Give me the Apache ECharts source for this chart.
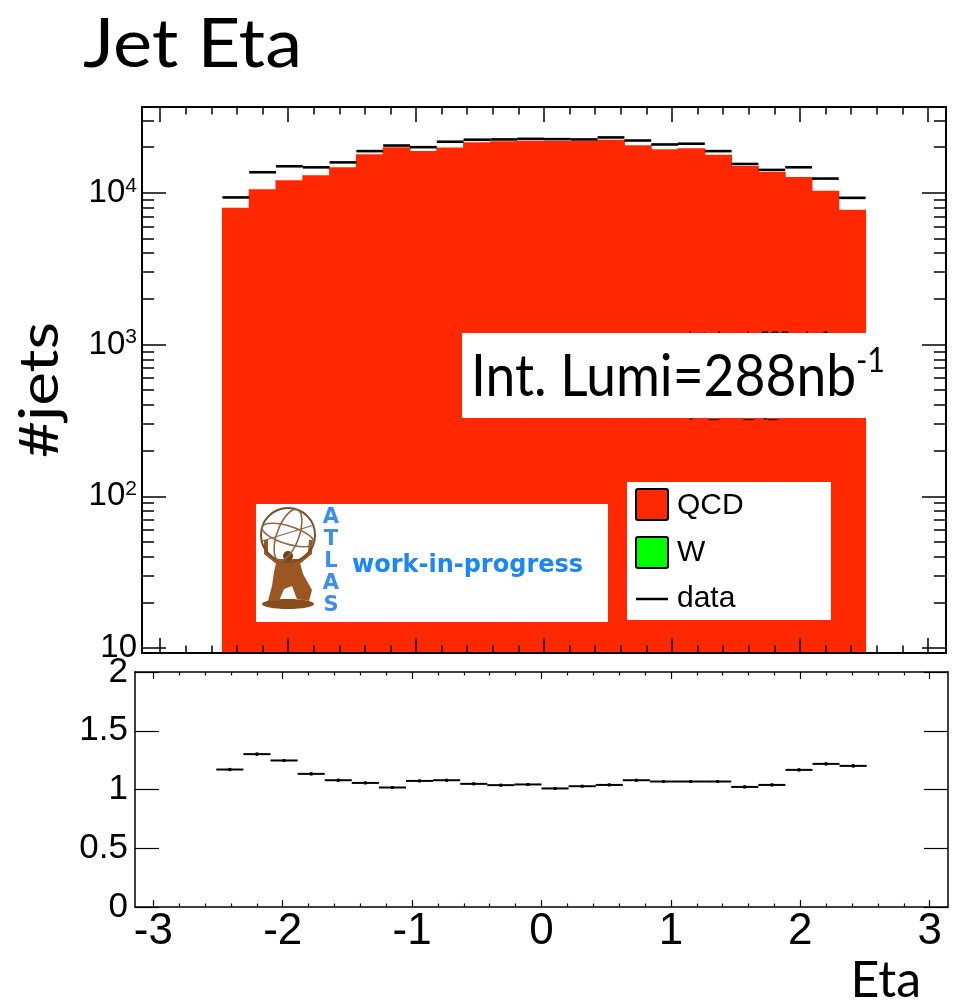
<!DOCTYPE html>
<html>
<head>
<meta charset="utf-8">
<script src="https://cdn.jsdelivr.net/npm/echarts@6/dist/echarts.min.js"></script>
<style>
  html, body { margin: 0; padding: 0; background: #fff; }
  #chart { width: 955px; height: 1002px; }
</style>
</head>
<body>
<div id="chart"></div>
<script>
// Histogram binning: 30 bins over [-pi, pi]; bins 3..26 are filled
const nBins = 30;
const etaMin = -Math.PI;
const etaMax = Math.PI;
const firstFilledBin = 3;

// QCD expectation per bin (jets)
const qcdCounts = [7980, 10580, 12110, 13060, 14740, 17990, 20000, 18840, 19900, 21580, 21920, 22030,
                   21930, 21930, 22400, 20600, 19410, 19710, 17830, 15030, 13730, 12730, 10310, 7740];
// Observed data per bin (jets)
const dataCounts = [9330, 13670, 14970, 14730, 15880, 18840, 20510, 20000, 21720, 22400, 22490, 22700,
                    22590, 22490, 23190, 22130, 20840, 21080, 18840, 15500, 14160, 14740, 12420, 9270];
// Data / MC ratio and its uncertainty
const ratioValues = [1.170, 1.301, 1.247, 1.133, 1.079, 1.056, 1.017, 1.073, 1.079, 1.048, 1.037, 1.043,
                     1.009, 1.028, 1.039, 1.079, 1.068, 1.068, 1.068, 1.022, 1.039, 1.167, 1.218, 1.201];
const ratioErrors = [0.014, 0.013, 0.012, 0.012, 0.011, 0.010, 0.010, 0.010, 0.010, 0.010, 0.010, 0.010,
                     0.010, 0.010, 0.010, 0.010, 0.010, 0.010, 0.010, 0.011, 0.011, 0.012, 0.013, 0.014];

// Axis tick positions
const xMajorTicks = [-3, -2, -1, 0, 1, 2, 3];
const xMinorTicks = [];
for (let k = -15; k <= 15; k++) if (k % 5 !== 0) xMinorTicks.push(k / 5);
const yLogMajorTicks = [10, 100, 1000, 10000];
const yLogMinorTicks = [];
for (let e = 1; e <= 3; e++) for (let m = 2; m <= 9; m++) yLogMinorTicks.push(m * Math.pow(10, e));
yLogMinorTicks.push(20000, 30000);
const ratioTicks = [0, 0.5, 1, 1.5, 2];

const yLogMin = 9.27;
const yLogMax = 36800;

const binW = (etaMax - etaMin) / nBins;
const binLow = i => etaMin + (firstFilledBin + i) * binW;
const qcdItems = qcdCounts.map((v, i) => [binLow(i), binLow(i) + binW, v]);
const dataItems = dataCounts.map((v, i) => [binLow(i), binLow(i) + binW, v]);
const ratioItems = ratioValues.map((v, i) => [binLow(i), binLow(i) + binW, v, ratioErrors[i]]);

const RED = '#ff2800';
const NUM_FONT = 'Liberation Sans';
const TITLE_FONT = 'Lato';

function tickAxis(kind, grid, pos, values, len, width, extra) {
  const base = {
    gridIndex: grid, position: pos,
    axisLine: { show: false, onZero: false },
    axisLabel: { show: false },
    splitLine: { show: false },
    axisTick: { show: true, inside: true, length: len, customValues: values,
                lineStyle: { color: '#000', width: width } },
    z: 10
  };
  if (kind === 'x') Object.assign(base, { type: 'value', min: etaMin, max: etaMax });
  return Object.assign(base, extra || {});
}
const frame = w => ({ show: true, onZero: false, lineStyle: { color: '#000', width: w } });

const logY = { type: 'log', logBase: 10, min: yLogMin, max: yLogMax };
const ratioY = { type: 'value', min: 0, max: 2, interval: 0.5 };

// ATLAS logo: globe wireframe, kneeling figure, vertical lettering
const BRONZE = '#9b5622';
const WIRE = '#8b6a4a';
const logoParts = [
  { type: 'ellipse', shape: { cx: 288, cy: 604, rx: 26, ry: 5 }, style: { fill: '#8a4a1c' } },
  { type: 'polygon', shape: { points: [[277, 559], [299, 559], [303, 574], [312, 590], [309, 601],
                                         [297, 599], [292, 586], [284, 589], [279, 601], [268, 601],
                                         [272, 586], [274, 572]] },
    style: { fill: BRONZE } },
  { type: 'circle', shape: { cx: 288, cy: 556, r: 5 }, style: { fill: '#7b3f16' } },
  { type: 'polyline', shape: { points: [[277, 562], [266, 553], [266, 540]] }, style: { stroke: BRONZE, lineWidth: 4, fill: 'none' } },
  { type: 'polyline', shape: { points: [[299, 562], [310, 553], [311, 540]] }, style: { stroke: BRONZE, lineWidth: 4, fill: 'none' } },
  { type: 'circle', shape: { cx: 288, cy: 535, r: 27 }, style: { fill: 'none', stroke: '#7a4a2a', lineWidth: 2 } },
  { type: 'ellipse', shape: { cx: 288, cy: 535, rx: 11, ry: 27 }, rotation: -0.35, originX: 288, originY: 535,
    style: { fill: 'none', stroke: WIRE, lineWidth: 1.6 } },
  { type: 'ellipse', shape: { cx: 288, cy: 535, rx: 27, ry: 9 }, rotation: -0.3, originX: 288, originY: 535,
    style: { fill: 'none', stroke: WIRE, lineWidth: 1.6 } },
  { type: 'line', shape: { x1: 262, y1: 541, x2: 314, y2: 525 }, style: { stroke: WIRE, lineWidth: 1.3 } }
].map(p => Object.assign(p, { z: 53 }));
const logoLetters = ['A', 'T', 'L', 'A', 'S'].map((ch, i) => ({
  type: 'text', x: 331, y: 518 + i * 22, z: 53,
  style: { text: ch, font: 'bold 21px "DejaVu Sans"', fill: '#3d8ef2', align: 'center', verticalAlign: 'middle' }
}));

const chart = echarts.init(document.getElementById('chart'), null, { renderer: 'canvas' });

chart.setOption({
  animation: false,
  backgroundColor: '#fff',
  grid: [
    { left: 142, top: 107, width: 804, height: 546, show: false },
    { left: 135, top: 672, width: 813, height: 235, show: false }
  ],
  xAxis: [
    // upper panel
    tickAxis('x', 0, 'bottom', xMajorTicks, 15, 1.5, { axisLine: frame(2) }),
    tickAxis('x', 0, 'bottom', xMinorTicks, 7.5, 1.5),
    tickAxis('x', 0, 'top', xMajorTicks, 15, 1.5, { axisLine: frame(2) }),
    tickAxis('x', 0, 'top', xMinorTicks, 7.5, 1.5),
    // ratio panel
    tickAxis('x', 1, 'bottom', xMajorTicks, 7, 1.2, {
      axisLine: frame(1.5),
      axisLabel: { show: true, customValues: xMajorTicks, fontFamily: NUM_FONT, fontSize: 44,
                   color: '#000', margin: 3, formatter: v => String(v) }
    }),
    tickAxis('x', 1, 'bottom', xMinorTicks, 3.5, 1.2),
    tickAxis('x', 1, 'top', xMajorTicks, 7, 1.2, { axisLine: frame(1.5) }),
    tickAxis('x', 1, 'top', xMinorTicks, 3.5, 1.2)
  ],
  yAxis: [
    // upper panel (log)
    tickAxis('y', 0, 'left', yLogMajorTicks, 24, 1.5, Object.assign({}, logY, {
      axisLine: frame(2),
      axisLabel: {
        show: true, customValues: yLogMajorTicks, margin: 5, color: '#000',
        fontFamily: NUM_FONT, fontSize: 33,
        formatter: v => {
          const e = Math.round(Math.log10(v));
          return e === 1 ? '{b|10}' : '{b|10}{s|' + e + '}';
        },
        rich: {
          b: { fontFamily: NUM_FONT, fontSize: 33, lineHeight: 35, color: '#000' },
          s: { fontFamily: NUM_FONT, fontSize: 21, lineHeight: 21, color: '#000', verticalAlign: 'top' }
        }
      }
    })),
    tickAxis('y', 0, 'left', yLogMinorTicks, 12, 1.5, Object.assign({}, logY)),
    tickAxis('y', 0, 'right', yLogMajorTicks, 24, 1.5, Object.assign({}, logY, { axisLine: frame(2) })),
    tickAxis('y', 0, 'right', yLogMinorTicks, 12, 1.5, Object.assign({}, logY)),
    // ratio panel
    tickAxis('y', 1, 'left', ratioTicks, 24, 1.2, Object.assign({}, ratioY, {
      axisLine: frame(1.5),
      axisLabel: { show: true, customValues: ratioTicks, fontFamily: NUM_FONT, fontSize: 35,
                   color: '#000', margin: 7, formatter: v => String(v) }
    })),
    tickAxis('y', 1, 'right', ratioTicks, 24, 1.2, Object.assign({}, ratioY, { axisLine: frame(1.5) }))
  ],
  series: [
    {
      name: 'QCD', type: 'custom', xAxisIndex: 0, yAxisIndex: 0, z: 2, silent: true,
      data: qcdItems, encode: { x: [0, 1], y: 2 },
      renderItem(params, api) {
        const p0 = api.coord([api.value(0), yLogMin]);
        const p1 = api.coord([api.value(1), api.value(2)]);
        // widen by half a pixel each side so neighbouring bins join without seams
        return { type: 'rect',
          shape: { x: p0[0] - 0.5, y: p1[1], width: p1[0] - p0[0] + 1, height: p0[1] - p1[1] },
          style: { fill: RED } };
      }
    },
    {
      name: 'data', type: 'custom', xAxisIndex: 0, yAxisIndex: 0, z: 3, silent: true,
      data: dataItems, encode: { x: [0, 1], y: 2 },
      renderItem(params, api) {
        const a = api.coord([api.value(0), api.value(2)]);
        const b = api.coord([api.value(1), api.value(2)]);
        return { type: 'line', shape: { x1: a[0], y1: a[1], x2: b[0], y2: b[1] },
                 style: { stroke: '#000', lineWidth: 2.6 } };
      }
    },
    {
      name: 'ratio', type: 'custom', xAxisIndex: 4, yAxisIndex: 4, z: 3, silent: true,
      data: ratioItems, encode: { x: [0, 1], y: 2 },
      renderItem(params, api) {
        const lo = api.value(0), hi = api.value(1), r = api.value(2), e = api.value(3);
        const c = (lo + hi) / 2;
        const a = api.coord([lo, r]), b = api.coord([hi, r]);
        const up = api.coord([c, r + e]), dn = api.coord([c, r - e]);
        return { type: 'group', children: [
          { type: 'line', shape: { x1: a[0], y1: a[1], x2: b[0], y2: b[1] }, style: { stroke: '#000', lineWidth: 2 } },
          { type: 'line', shape: { x1: up[0], y1: up[1], x2: dn[0], y2: dn[1] }, style: { stroke: '#000', lineWidth: 2 } },
          { type: 'rect', shape: { x: up[0] - 1.5, y: a[1] - 1.5, width: 3, height: 3 }, style: { fill: '#000' } }
        ] };
      }
    }
  ],
  graphic: [
    // title and axis titles
    { type: 'text', x: 83, y: 11, scaleX: 1.09, z: 60,
      style: { text: 'Jet Eta', font: '68px ' + TITLE_FONT, fill: '#000', verticalAlign: 'top' } },
    { type: 'text', x: 41, y: 390, rotation: Math.PI / 2, scaleX: 1.18, z: 60,
      style: { text: '#jets', font: '54px ' + TITLE_FONT, fill: '#000', align: 'center', verticalAlign: 'middle' } },
    { type: 'text', x: 921, y: 981, z: 60,
      style: { text: 'Eta', font: '50px ' + TITLE_FONT, fill: '#000', align: 'right', verticalAlign: 'middle' } },

    // luminosity label over the fit-box text
    { type: 'text', x: 688, y: 339, z: 50,
      style: { text: 'int. lumi: 288 nb-1', font: '18px ' + NUM_FONT, fill: '#000', verticalAlign: 'middle' } },
    { type: 'text', x: 690, y: 411, z: 50,
      style: { text: 'jet_eta_nj_all', font: '18px ' + NUM_FONT, fill: '#000', verticalAlign: 'middle' } },
    { type: 'rect', shape: { x: 462, y: 333, width: 428, height: 85 }, z: 51, style: { fill: '#fff' } },
    { type: 'text', x: 471, y: 377, scaleX: 0.92, z: 52,
      style: { text: 'Int. Lumi=288nb', font: '58px ' + TITLE_FONT, fill: '#000', verticalAlign: 'middle' } },
    { type: 'text', x: 856, y: 361, scaleX: 0.9, z: 52,
      style: { text: '-1', font: '34px ' + TITLE_FONT, fill: '#000', verticalAlign: 'middle' } },

    // experiment logo panel
    { type: 'rect', shape: { x: 256, y: 504, width: 352, height: 118 }, z: 51, style: { fill: '#fff' } },
    ...logoParts,
    ...logoLetters,
    { type: 'text', x: 352, y: 566, z: 52,
      style: { text: 'work-in-progress', font: 'bold 24px "DejaVu Sans"', fill: '#1c86f7', verticalAlign: 'middle' } },

    // legend
    { type: 'rect', shape: { x: 627, y: 482, width: 204, height: 138 }, z: 51, style: { fill: '#fff' } },
    { type: 'rect', shape: { x: 636, y: 489, width: 32, height: 31, r: 2 }, z: 52,
      style: { fill: RED, stroke: '#000', lineWidth: 2 } },
    { type: 'rect', shape: { x: 636, y: 537, width: 32, height: 31, r: 2 }, z: 52,
      style: { fill: '#00ff00', stroke: '#000', lineWidth: 2 } },
    { type: 'line', shape: { x1: 636, y1: 599, x2: 668, y2: 599 }, z: 52, style: { stroke: '#000', lineWidth: 2.5 } },
    { type: 'text', x: 677, y: 506, z: 52, style: { text: 'QCD', font: '30px ' + NUM_FONT, fill: '#000', verticalAlign: 'middle' } },
    { type: 'text', x: 677, y: 553, z: 52, style: { text: 'W', font: '30px ' + NUM_FONT, fill: '#000', verticalAlign: 'middle' } },
    { type: 'text', x: 677, y: 599, z: 52, style: { text: 'data', font: '30px ' + NUM_FONT, fill: '#000', verticalAlign: 'middle' } }
  ]
});
</script>
</body>
</html>
